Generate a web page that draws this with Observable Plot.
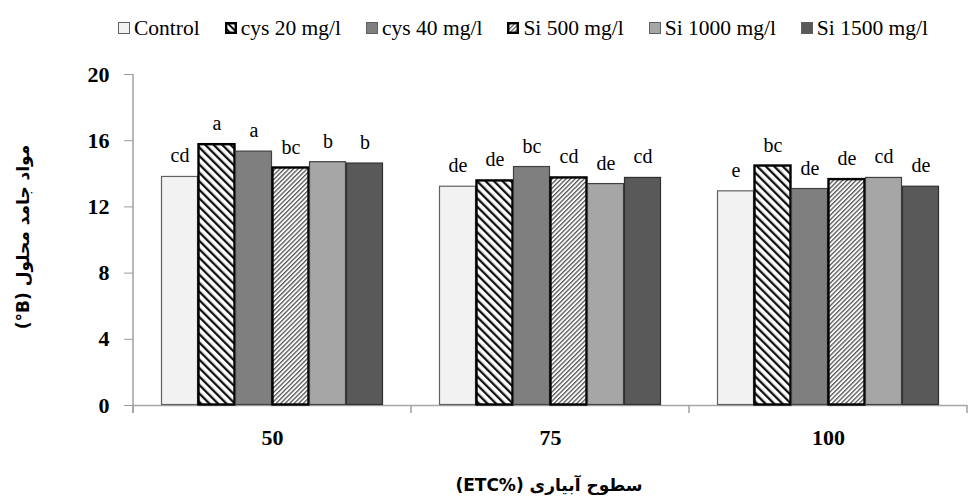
<!DOCTYPE html>
<html lang="en">
<head>
<meta charset="utf-8">
<script src="https://cdn.jsdelivr.net/npm/d3@7"></script>
<script src="https://cdn.jsdelivr.net/npm/@observablehq/plot@0.6"></script>
</head>
<body style="margin:0;background:#fff;font-family:'Liberation Serif', Tinos, serif">
<div id="wrap" style="position:relative;width:969px;height:500px">
  <div id="legend" style="height:44px;display:flex;align-items:flex-end;padding-left:118px;gap:25px;font-size:21.5px;line-height:24px;box-sizing:border-box;padding-bottom:4px"></div>
  <div id="chart"></div>
</div>
<script>
const groups = ["50", "75", "100"];
const treatments = ["Control", "cys 20 mg/l", "cys 40 mg/l", "Si 500 mg/l", "Si 1000 mg/l", "Si 1500 mg/l"];
const values50 = [13.84, 15.79, 15.37, 14.38, 14.73, 14.65];
const values75 = [13.25, 13.60, 14.44, 13.78, 13.41, 13.78];
const values100 = [12.97, 14.50, 13.11, 13.68, 13.78, 13.25];
const letters50 = ["cd", "a", "a", "bc", "b", "b"];
const letters75 = ["de", "de", "bc", "cd", "de", "cd"];
const letters100 = ["e", "bc", "de", "de", "cd", "de"];
const yTicks = [0, 4, 8, 12, 16, 20];
const yTitle = "مواد جامد محلول (B°)";
const xTitle = "سطوح آبیاری \u200E(ETC%)\u200E";

const FONT = "'Liberation Serif', Tinos, serif";
const AFONT = "'DejaVu Sans', sans-serif";

const fills = {
  "Control": "#f2f2f2",
  "cys 20 mg/l": "url(#hatchWide)",
  "cys 40 mg/l": "#7f7f7f",
  "Si 500 mg/l": "url(#hatchFine)",
  "Si 1000 mg/l": "#a6a6a6",
  "Si 1500 mg/l": "#595959"
};
const strokes = {
  "Control": "#606060",
  "cys 20 mg/l": "#000",
  "cys 40 mg/l": "#404040",
  "Si 500 mg/l": "#000",
  "Si 1000 mg/l": "#404040",
  "Si 1500 mg/l": "#303030"
};
const strokeWidths = {
  "Control": 1.2, "cys 20 mg/l": 2.4, "cys 40 mg/l": 1.2,
  "Si 500 mg/l": 2.4, "Si 1000 mg/l": 1.2, "Si 1500 mg/l": 1.2
};

const valueSets = [values50, values75, values100];
const letterSets = [letters50, letters75, letters100];
const data = groups.flatMap((g, i) => treatments.map((t, j) => ({
  group: g, treatment: t, value: valueSets[i][j], letter: letterSets[i][j]
})));

const plot = Plot.plot({
  width: 969,
  height: 456,
  marginTop: 30,
  marginLeft: 132,
  marginRight: 1,
  marginBottom: 95,
  style: { fontFamily: FONT, background: "#fff" },
  fx: { domain: groups, padding: 0, label: null },
  x: { domain: treatments, paddingInner: 0, paddingOuter: 0.74, axis: null },
  y: { domain: [0, 20], label: null },
  marks: [
    Plot.axisY({ ticks: yTicks, tickSize: 9, tickPadding: 15, fontSize: 22, fontWeight: "bold", fill: "#000", stroke: "#999", label: null }),
    Plot.axisFx({ anchor: "bottom", tickSize: 0, tickPadding: 24, fontSize: 22, fontWeight: "bold", label: null }),
    Plot.ruleY([0], { stroke: "#a6a6a6", strokeWidth: 1.5 }),
    Plot.barY(data, {
      fx: "group", x: "treatment", y: "value",
      fill: d => fills[d.treatment],
      stroke: d => strokes[d.treatment],
      strokeWidth: d => strokeWidths[d.treatment],
      inset: 0.5
    }),
    Plot.text(data, {
      fx: "group", x: "treatment", y: "value", text: "letter",
      lineAnchor: "bottom", dy: -14, fontSize: 20, fill: "#000"
    })
  ]
});

const svg = d3.select(plot);
svg.attr("font-family", FONT).style("font-family", FONT);
svg.selectAll("g, text").attr("font-family", FONT);

// hatch patterns
const defs = svg.insert("defs", ":first-child");
const pw = defs.append("pattern").attr("id", "hatchWide").attr("patternUnits", "userSpaceOnUse")
  .attr("width", 6).attr("height", 6).attr("patternTransform", "rotate(-45)");
pw.append("rect").attr("width", 6).attr("height", 6).attr("fill", "#fff");
pw.append("rect").attr("width", 2.3).attr("height", 6).attr("fill", "#111");
const pf = defs.append("pattern").attr("id", "hatchFine").attr("patternUnits", "userSpaceOnUse")
  .attr("width", 3.2).attr("height", 3.2).attr("patternTransform", "rotate(45)");
pf.append("rect").attr("width", 3.2).attr("height", 3.2).attr("fill", "#fff");
pf.append("rect").attr("width", 1.3).attr("height", 3.2).attr("fill", "#555");

// y axis line and group-boundary ticks from the library's scales
const fx = plot.scale("fx"), y = plot.scale("y");
const y0 = y.apply(0), y20 = y.apply(20);
const x0 = fx.apply(groups[0]);
const axisG = svg.append("g").attr("stroke", "#a0a0a0").attr("stroke-width", 1.5);
axisG.append("line").attr("x1", x0).attr("x2", x0).attr("y1", y20).attr("y2", y0 + 8);
groups.forEach(g => {
  const xs = fx.apply(g);
  axisG.append("line").attr("x1", xs).attr("x2", xs).attr("y1", y0).attr("y2", y0 + 8);
});
const xe = fx.apply(groups[groups.length - 1]) + fx.bandwidth;
axisG.append("line").attr("x1", xe).attr("x2", xe).attr("y1", y0).attr("y2", y0 + 8);

document.getElementById("chart").appendChild(plot);

// axis titles (Persian)
const wrap = d3.select("#wrap");
wrap.append("div").attr("lang", "fa").attr("dir", "rtl")
  .style("position", "absolute").style("left", "23px").style("top", "237px")
  .style("transform", "translate(-50%,-50%) rotate(-90deg)")
  .style("font-family", AFONT).style("font-weight", "bold").style("font-size", "17px").style("white-space", "nowrap")
  .text(yTitle);
wrap.append("div").attr("lang", "fa").attr("dir", "rtl")
  .style("position", "absolute").style("left", "549px").style("top", "485px")
  .style("transform", "translate(-50%,-50%)")
  .style("font-family", AFONT).style("font-weight", "bold").style("font-size", "17px").style("white-space", "nowrap")
  .text(xTitle);

// legend
const legend = d3.select("#legend");
treatments.forEach(t => {
  const it = legend.append("div").style("display", "flex").style("align-items", "center").style("white-space", "nowrap");
  const s = it.append("svg").attr("width", 12).attr("height", 12).style("margin-right", "4px");
  const sd = s.append("defs");
  if (t === "cys 20 mg/l") {
    const p = sd.append("pattern").attr("id", "lgW").attr("patternUnits", "userSpaceOnUse")
      .attr("width", 5).attr("height", 5).attr("patternTransform", "rotate(-45)");
    p.append("rect").attr("width", 5).attr("height", 5).attr("fill", "#fff");
    p.append("rect").attr("width", 2).attr("height", 5).attr("fill", "#111");
  }
  if (t === "Si 500 mg/l") {
    const p = sd.append("pattern").attr("id", "lgF").attr("patternUnits", "userSpaceOnUse")
      .attr("width", 3).attr("height", 3).attr("patternTransform", "rotate(45)");
    p.append("rect").attr("width", 3).attr("height", 3).attr("fill", "#fff");
    p.append("rect").attr("width", 1.2).attr("height", 3).attr("fill", "#555");
  }
  const f = t === "cys 20 mg/l" ? "url(#lgW)" : t === "Si 500 mg/l" ? "url(#lgF)" : fills[t];
  const bold = (t === "cys 20 mg/l" || t === "Si 500 mg/l");
  s.append("rect").attr("x", bold ? 1.2 : 0.5).attr("y", bold ? 1.2 : 0.5)
    .attr("width", bold ? 9.6 : 11).attr("height", bold ? 9.6 : 11)
    .attr("fill", f).attr("stroke", bold ? "#000" : "#606060").attr("stroke-width", bold ? 2.4 : 1);
  it.append("span").style("font-family", FONT).text(t);
});
</script>
</body>
</html>
